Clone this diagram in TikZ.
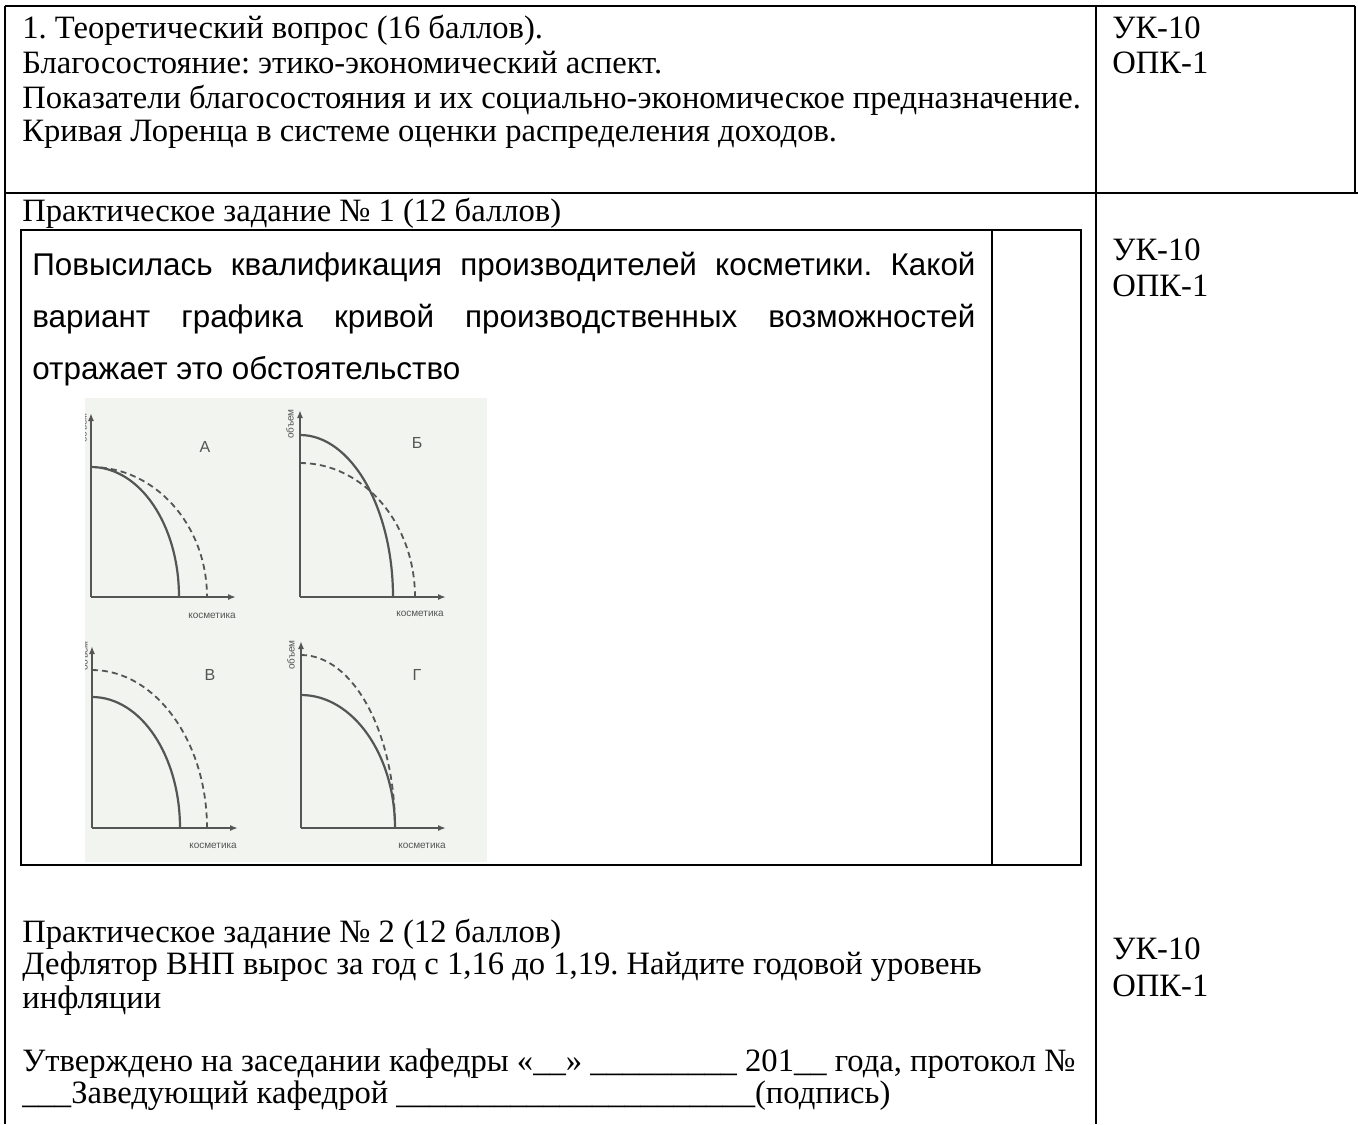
\documentclass[tikz,border=0pt]{standalone}
\usepackage{fontspec}
\setmainfont{Liberation Serif}
\newfontfamily\arialfont{Liberation Sans}
\usetikzlibrary{arrows.meta}
\frenchspacing

\definecolor{scanbg}{RGB}{242,244,239}
\definecolor{plotgray}{RGB}{85,85,85}

\begin{document}
\begin{tikzpicture}[
    x=0.5pt, y=-0.5pt,
    cell/.style={anchor=base west, inner sep=0pt, font=\fontsize{16.3}{17}\selectfont},
    task/.style={anchor=base west, inner sep=0pt, font=\arialfont\fontsize{15.7}{17}\selectfont},
    rule/.style={line width=1pt},
    axis/.style={plotgray, line width=0.9pt, -{Latex[length=4pt,width=3pt]}},
    ppf/.style={plotgray, line width=1.1pt},
    ppfnew/.style={plotgray, line width=0.9pt, dash pattern=on 3pt off 2pt},
    tag/.style={plotgray, font=\arialfont\fontsize{8}{9}\selectfont, inner sep=0pt},
    axlabel/.style={plotgray, font=\arialfont\fontsize{5}{6}\selectfont, inner sep=0pt}
]
    \useasboundingbox (0,0) rectangle (1358,1124);

    % Table rules
    \draw [rule] (5,6) -- (1355,6);
    \draw [rule] (5,193) -- (1358,193);
    \draw [rule] (1355,6) -- (1355,193);
    \draw [rule] (5,6) -- (5,1124);
    \draw [rule] (1096,6) -- (1096,1124);

    % Row 1
    \node [cell] (q1) at (22,39) {1. Теоретический вопрос (16 баллов).};
    \node [cell] (q1a) at (22,73) {Благосостояние: этико-экономический аспект.};
    \node [cell] (q1b) at (22,108) {Показатели благосостояния и их социально-экономическое предназначение.};
    \node [cell] (q1c) at (22,141) {Кривая Лоренца в системе оценки распределения доходов.};
    \node [cell] (uk1) at (1112,39) {УК-10};
    \node [cell] (opk1) at (1112,73) {ОПК-1};

    % Row 2
    \node [cell] (p1) at (22,221) {Практическое задание № 1 (12 баллов)};
    \draw [line width=1.2pt] (21,230) rectangle (1081,865);
    \draw [line width=1.2pt] (992,230) -- (992,865);
    \node [task] (t1) at (32,275) {\makebox[471.5pt][s]{Повысилась квалификация производителей косметики. Какой}};
    \node [task] (t2) at (32,327) {\makebox[471.5pt][s]{вариант графика кривой производственных возможностей}};
    \node [task] (t3) at (32,379) {отражает это обстоятельство};
    \node [cell] (uk2) at (1112,260) {УК-10};
    \node [cell] (opk2) at (1112,296) {ОПК-1};

    % Scanned figure
    \fill [scanbg] (85,398) rectangle (487,862);
    \begin{scope}
    \clip (85,398) rectangle (487,862);
    % graph A
    \coordinate (oA) at (91,597);
    \draw [axis] (oA) -- (91,413);
    \draw [axis] (oA) -- (236,597);
    \draw [ppf] (91,467) .. controls (140,467) and (179,525) .. (179,597);
    \draw [ppfnew] (91,467) .. controls (155,467) and (207,525) .. (207,597);
    \node [tag] (lA) at (205,447) {А};
    \node [axlabel, rotate=90] (yA) at (83,428) {объем};
    \node [axlabel] (xA) at (212,616) {косметика};
    % graph B
    \coordinate (oB) at (300,597);
    \draw [axis] (oB) -- (300,410);
    \draw [axis] (oB) -- (446,597);
    \draw [ppf] (300,435) .. controls (351,435) and (393,508) .. (393,597);
    \draw [ppfnew] (300,463) .. controls (363,463) and (415,523) .. (415,597);
    \node [tag] (lB) at (417,443) {Б};
    \node [axlabel, rotate=90] (yB) at (290,424) {объем};
    \node [axlabel] (xB) at (420,614) {косметика};
    % graph V
    \coordinate (oC) at (92,828);
    \draw [axis] (oC) -- (92,646);
    \draw [axis] (oC) -- (238,828);
    \draw [ppf] (92,697) .. controls (141,697) and (180,756) .. (180,828);
    \draw [ppfnew] (92,670) .. controls (155,670) and (207,741) .. (207,828);
    \node [tag] (lC) at (210,675) {В};
    \node [axlabel, rotate=90] (yC) at (84,656) {объем};
    \node [axlabel] (xC) at (213,846) {косметика};
    % graph G
    \coordinate (oD) at (301,828);
    \draw [axis] (oD) -- (301,641);
    \draw [axis] (oD) -- (446,828);
    \draw [ppf] (301,695) .. controls (353,695) and (395,755) .. (395,828);
    \draw [ppfnew] (301,655) .. controls (353,655) and (395,732) .. (395,828);
    \node [tag] (lD) at (417,675) {Г};
    \node [axlabel, rotate=90] (yD) at (291,655) {объем};
    \node [axlabel] (xD) at (422,846) {косметика};
    \end{scope}

    % Row 3
    \node [cell] (p2) at (22,942) {Практическое задание № 2 (12 баллов)};
    \node [cell] (p2a) at (22,974) {Дефлятор ВНП вырос за год с 1,16 до 1,19. Найдите годовой уровень};
    \node [cell] (p2b) at (22,1008) {инфляции};
    \node [cell] (sig1) at (22,1071) {Утверждено на заседании кафедры «\_\_» \_\_\_\_\_\_\_\_\_ 201\_\_ года, протокол №};
    \node [cell] (sig2) at (22,1103) {\_\_\_Заведующий кафедрой \_\_\_\_\_\_\_\_\_\_\_\_\_\_\_\_\_\_\_\_\_\_(подпись)};
    \node [cell] (uk3) at (1112,959) {УК-10};
    \node [cell] (opk3) at (1112,996) {ОПК-1};
\end{tikzpicture}
\end{document}
